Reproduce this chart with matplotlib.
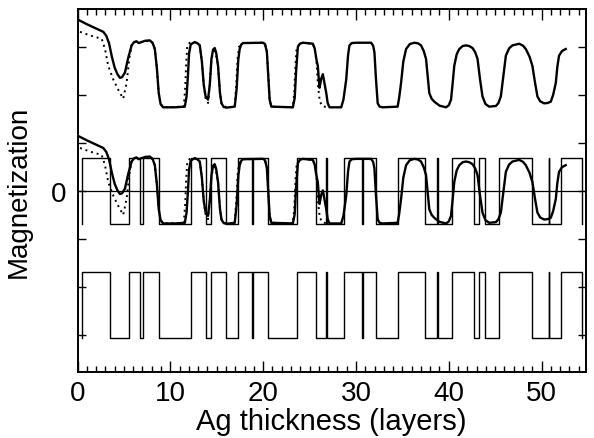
import numpy as np
import matplotlib
matplotlib.use("Agg")
import matplotlib.pyplot as plt
from matplotlib.ticker import MultipleLocator, FixedLocator

plt.rcParams["font.family"] = ["Liberation Sans", "DejaVu Sans"]

# Calculated magnetization profile (normalised, +1 / -1 plateaus) vs Ag thickness
model_x = [0.09, 1.00, 2.00, 2.77, 3.10, 3.40, 3.70, 4.00, 4.30, 4.57, 4.80, 5.11, 5.45,
           5.83, 6.10, 6.37, 6.60, 6.90, 7.30, 7.80, 8.10, 8.33, 8.55, 8.75, 8.95, 9.23,
           10.50, 11.56, 11.75, 11.90, 12.02, 12.20, 12.63, 12.95, 13.17, 13.40, 13.60,
           13.80, 14.06, 14.25, 14.43, 14.60, 14.78, 14.95, 15.14, 15.35, 15.51, 15.75,
           16.04, 16.94, 17.15, 17.32, 17.47, 17.65, 17.83, 19.98, 20.20, 20.40, 20.55,
           20.70, 20.88, 23.20, 23.40, 23.55, 23.74, 23.95, 24.28, 25.35, 25.55, 25.75,
           25.89, 26.00, 26.08, 26.25, 26.43, 26.60, 26.80, 26.95, 27.15, 28.41, 28.65,
           28.95, 29.15, 29.30, 29.55, 30.02, 31.63, 31.85, 31.99, 32.15, 32.34, 32.55,
           32.88, 34.49, 34.65, 34.86, 35.10, 35.40, 35.80, 36.29, 36.70, 37.01, 37.30,
           37.55, 37.75, 37.90, 38.15, 38.44, 39.00, 39.70, 40.00, 40.24, 40.42, 40.59,
           40.85, 41.13, 41.50, 41.85, 42.20, 42.56, 42.85, 43.10, 43.35, 43.63, 43.95,
           44.35, 45.08, 45.35, 45.61, 45.90, 46.15, 46.50, 46.86, 47.58, 48.00, 48.30,
           48.70, 49.01, 49.30, 49.55, 49.85, 50.27, 50.65, 50.99, 51.25, 51.53, 51.70,
           51.88, 52.20, 52.60]
model_m = [1.66, 1.53, 1.40, 1.30, 1.18, 0.95, 0.55, 0.22, 0.02, -0.09, -0.07, 0.07, 0.50,
           0.89, 0.99, 1.01, 0.96, 0.99, 1.03, 1.04, 0.96, 0.78, 0.20, -0.55, -0.88, -0.98,
           -0.98, -0.96, -0.65, 0.00, 0.65, 0.92, 0.99, 0.95, 0.89, 0.40, -0.30,
           -0.65, -0.75, -0.30, 0.48, 0.76, 0.81, 0.65, 0.27, -0.55, -0.86, -0.97,
           -0.99, -0.96, -0.40, 0.45, 0.78, 0.92, 0.96, 0.97, 0.93, 0.70, 0.00,
           -0.75, -0.96, -0.98, -0.70, 0.10, 0.84, 0.94, 0.97, 0.94, 0.80, 0.45,
           0.27, -0.15, -0.39, -0.12, 0.02, -0.25, -0.55, -0.85, -0.98, -0.98, -0.75,
           -0.14, 0.60, 0.89, 0.96, 0.97, 0.97, 0.88, 0.68, -0.10, -0.86, -0.96,
           -0.98, -0.96, -0.70, -0.24, 0.40, 0.78, 0.93, 0.97, 0.95, 0.89, 0.72,
           0.48, -0.10, -0.55, -0.72, -0.81, -0.93, -0.98, -0.92, -0.75, -0.25, 0.27,
           0.62, 0.78, 0.87, 0.89, 0.87, 0.81, 0.68, 0.48, -0.10, -0.65, -0.88,
           -0.96, -0.94, -0.85, -0.65, 0.00, 0.58, 0.80, 0.89, 0.94, 0.88, 0.78,
           0.55, 0.27, -0.25, -0.65, -0.80, -0.86, -0.85, -0.81, -0.60, -0.24, 0.25,
           0.58, 0.72, 0.78]

# Measured magnetization (dotted), available up to ~27 layers
meas_x = [0.27, 1.34, 2.60, 2.96, 3.31, 3.85, 4.39, 4.92, 5.29, 5.57, 5.83, 6.10, 6.37,
          6.90, 7.80, 8.10, 8.33, 8.55, 8.75, 8.95, 9.23, 11.45, 11.60, 11.70, 11.83,
          12.10, 12.63, 13.17, 13.40, 13.60, 13.80, 14.06, 14.25, 14.43, 14.78, 15.14,
          15.35, 15.51, 16.04, 16.94, 17.10, 17.25, 17.40, 17.83, 19.98, 20.20, 20.40,
          20.55, 20.70, 20.88, 23.20, 23.35, 23.50, 23.62, 24.10, 25.35, 25.55, 25.75,
          25.90, 26.10, 26.40, 27.00]
meas_m = [1.30, 1.19, 1.09, 0.78, 0.27, -0.14, -0.45, -0.72, -0.24, 0.48, 0.89, 0.99, 1.01,
          0.99, 1.04, 0.96, 0.78, 0.20, -0.55, -0.88, -0.98, -0.96, -0.40, 0.30, 0.89,
          0.97, 0.99, 0.89, 0.40, -0.30, -0.70, -0.85, -0.30, 0.48, 0.81, 0.27,
          -0.55, -0.86, -0.99, -0.96, -0.30, 0.50, 0.85, 0.96, 0.97, 0.93, 0.70,
          0.00, -0.75, -0.96, -0.98, -0.55, 0.40, 0.84, 0.97, 0.94, 0.80, 0.40,
          -0.30, -0.80, -0.95, -0.98]

# Ideal layer-by-layer magnetization: switching thicknesses and the resulting sign
switch_x = [0.45, 3.49, 5.57, 6.72, 7.01, 8.80, 12.28, 13.89, 14.35, 16.04, 17.29, 18.80,
            18.88, 20.52, 23.67, 25.65, 26.75, 26.83, 28.76, 30.70, 30.78, 32.20, 34.50,
            37.40, 38.76, 38.84, 40.30, 42.70, 43.30, 43.90, 45.40, 49.00, 50.76, 50.84,
            52.10, 54.40]
switch_sign = [1, -1, 1, -1, 1, -1, 1, -1, 1, -1, 1, -1,
               1, -1, 1, -1, 1, -1, 1, -1, 1, -1, 1,
               -1, 1, -1, 1, -1, 1, -1, 1, -1, 1, -1,
               1, -1]

top_offset = 2.42
mid_offset = 0.0
bottom_offset = -2.37
amp = 0.69

fig = plt.figure(figsize=(5.94, 4.39), dpi=100)
ax = fig.add_axes([0.1305, 0.151, 0.8555, 0.826])

model_x = np.asarray(model_x)
model_m = np.asarray(model_m)
meas_x = np.asarray(meas_x)
meas_m = np.asarray(meas_m)

# step outline of the ideal profile
sx = np.repeat(switch_x, 2)
sy = np.empty_like(sx)
prev = [-switch_sign[0]] + switch_sign[:-1]
sy[0::2] = prev
sy[1::2] = switch_sign

lw_c = 1.7
ax.plot(model_x, top_offset + amp * model_m, color="black", lw=lw_c)
ax.plot(meas_x, top_offset + amp * meas_m, color="black", lw=1.4, ls=(0, (1, 2)))

ax.axhline(0, color="black", lw=0.9)
ax.plot(sx, mid_offset + amp * sy, color="black", lw=1.0)
ax.plot(model_x, mid_offset + amp * model_m, color="black", lw=lw_c)
ax.plot(meas_x, mid_offset + amp * meas_m, color="black", lw=1.4, ls=(0, (1, 2)))

ax.plot(sx, bottom_offset + amp * sy, color="black", lw=1.0)

ax.set_xlim(0, 54.75)
ax.set_ylim(-3.765, 3.79)
ax.xaxis.set_major_locator(MultipleLocator(10))
ax.xaxis.set_minor_locator(MultipleLocator(1))
ax.yaxis.set_major_locator(FixedLocator([-3, -2, -1, 0, 1, 2, 3]))
ax.set_yticklabels(["", "", "", "0", "", "", ""])
ax.tick_params(which="both", direction="in", top=True, right=True, width=1.0, labelsize=20)
ax.tick_params(which="major", axis="x", length=8)
ax.tick_params(which="minor", axis="x", length=4)
ax.tick_params(which="major", axis="y", length=6)
ax.tick_params(axis="x", pad=6)
ax.tick_params(axis="y", pad=8)
for s in ax.spines.values():
    s.set_linewidth(1.4)

ax.set_xlabel("Ag thickness (layers)", fontsize=21, labelpad=1)
ax.set_ylabel("Magnetization", fontsize=20, labelpad=14)

fig.savefig("out.png", dpi=100)
